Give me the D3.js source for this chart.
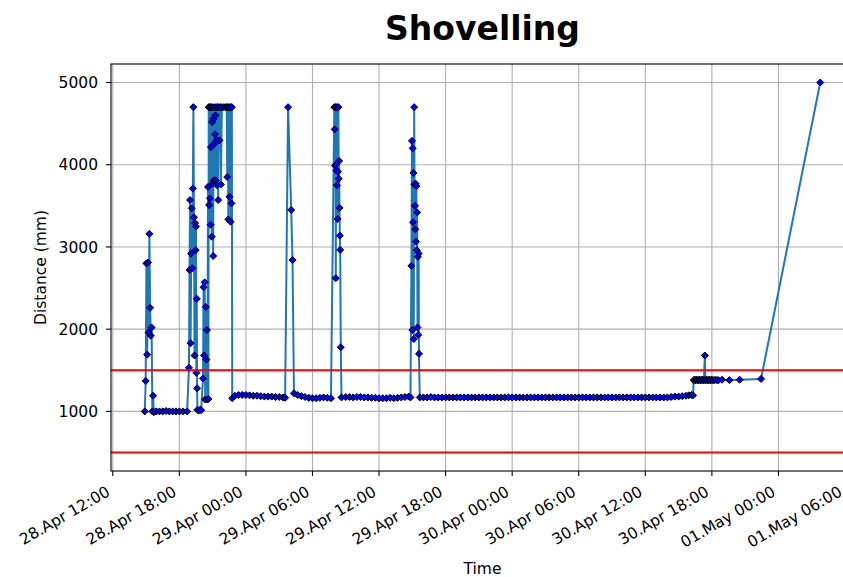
<!DOCTYPE html>
<html>
<head>
<meta charset="utf-8">
<script src="https://cdn.jsdelivr.net/npm/d3@7"></script>
<style>
  html, body { margin: 0; padding: 0; background: #fff; }
  svg { display: block; font-family: "DejaVu Sans", sans-serif; }
</style>
</head>
<body>
<svg id="chart" width="843" height="577"></svg>
<script>
// ---------------- DATA ----------------
const titleText = "Shovelling";
const xLabel = "Time";
const yLabel = "Distance (mm)";
const yTicks = [1000, 2000, 3000, 4000, 5000];
const thresholds = [1500, 500];

// burst on 28 Apr afternoon
const times1 = ["04-28 14:53","04-28 14:58","04-28 15:02","04-28 15:06","04-28 15:10","04-28 15:14","04-28 15:18","04-28 15:22","04-28 15:26","04-28 15:30","04-28 15:34","04-28 15:38","04-28 15:42",
  "04-28 15:55","04-28 16:12","04-28 16:30","04-28 16:48","04-28 17:06","04-28 17:24","04-28 17:42","04-28 18:00","04-28 18:20","04-28 18:42"];
const dist1 = [1000,1370,2800,1690,2810,1960,3160,2260,1920,2020,1000,1190,990,
  1000,1000,1000,1005,1000,1000,1000,1000,1000,1000];

// burst on 28 Apr evening
const times2 = ["04-28 18:52","04-28 18:55","04-28 18:58","04-28 19:01","04-28 19:04","04-28 19:07","04-28 19:10","04-28 19:13","04-28 19:16","04-28 19:19","04-28 19:22","04-28 19:25","04-28 19:28","04-28 19:30","04-28 19:32","04-28 19:34","04-28 19:36","04-28 19:38","04-28 19:44","04-28 19:52","04-28 19:58"];
const dist2 = [1530,2720,3570,1830,2920,3470,2740,3710,4700,3360,1680,3290,2960,3250,1470,2370,1280,1020,1010,1020,1015];

// long burst 28 Apr night
const times3 = ["04-28 20:08","04-28 20:11","04-28 20:14","04-28 20:17","04-28 20:20","04-28 20:23","04-28 20:26","04-28 20:29","04-28 20:32","04-28 20:35","04-28 20:37","04-28 20:39","04-28 20:41","04-28 20:43","04-28 20:45","04-28 20:47","04-28 20:49","04-28 20:51","04-28 20:53","04-28 20:55","04-28 20:57","04-28 20:59",
  "04-28 21:01","04-28 21:03","04-28 21:05","04-28 21:07","04-28 21:09","04-28 21:11","04-28 21:13","04-28 21:15","04-28 21:17","04-28 21:19","04-28 21:21","04-28 21:24","04-28 21:27","04-28 21:30","04-28 21:33","04-28 21:37","04-28 21:41","04-28 21:45","04-28 21:50",
  "04-28 22:00","04-28 22:10","04-28 22:16","04-28 22:19","04-28 22:22","04-28 22:25","04-28 22:28","04-28 22:31","04-28 22:34","04-28 22:37","04-28 22:40","04-28 22:42","04-28 22:44","04-28 22:46"];
const dist3 = [1400,2510,1680,2570,1145,2270,1630,1990,1145,3730,1150,4700,3510,4700,3590,4700,3270,4215,4700,3125,4520,3770,
  4700,2890,4560,3810,4256,4700,4370,4600,3810,4700,4297,3750,4700,3570,4700,4297,4700,3760,4700,
  4700,4700,4700,3850,4700,3335,4700,3610,4700,3307,4700,3530,4700,1160];

// quiet night, then short burst 29 Apr early morning
const times4 = ["04-28 23:00","04-28 23:20","04-28 23:40","04-29 00:00","04-29 00:20","04-29 00:40","04-29 01:00","04-29 01:20","04-29 01:40","04-29 02:00","04-29 02:20","04-29 02:40","04-29 03:00","04-29 03:20","04-29 03:32",
  "04-29 03:48","04-29 04:05","04-29 04:12","04-29 04:20","04-29 04:40","04-29 05:00","04-29 05:20","04-29 05:40","04-29 06:00","04-29 06:20","04-29 06:40","04-29 07:00","04-29 07:20","04-29 07:40"];
const dist4 = [1190,1200,1200,1200,1195,1190,1190,1185,1180,1180,1180,1175,1175,1170,1165,
  4700,3450,2840,1220,1200,1185,1175,1165,1160,1160,1165,1170,1165,1160];

// burst 29 Apr morning
const times5 = ["04-29 07:58","04-29 08:00","04-29 08:02","04-29 08:04","04-29 08:06","04-29 08:08","04-29 08:10","04-29 08:12","04-29 08:14","04-29 08:16","04-29 08:18","04-29 08:20","04-29 08:22","04-29 08:24","04-29 08:26","04-29 08:28","04-29 08:30","04-29 08:33","04-29 08:37",
  "04-29 09:00","04-29 09:20","04-29 09:40","04-29 10:00","04-29 10:20","04-29 10:40","04-29 11:00","04-29 11:20","04-29 11:40","04-29 12:00","04-29 12:20","04-29 12:40","04-29 13:00","04-29 13:20","04-29 13:40","04-29 14:00","04-29 14:20","04-29 14:40"];
const dist5 = [4700,4430,3990,4700,2620,4700,3930,3750,4700,3340,3915,4700,3830,4046,3475,3137,2964,1780,1170,
  1175,1175,1170,1175,1175,1170,1170,1165,1165,1160,1160,1160,1165,1160,1165,1170,1175,1180];

// burst 29 Apr afternoon
const times6 = ["04-29 14:50","04-29 14:55","04-29 14:58","04-29 15:00","04-29 15:02","04-29 15:04","04-29 15:06","04-29 15:08","04-29 15:10","04-29 15:12","04-29 15:14","04-29 15:16","04-29 15:18","04-29 15:20","04-29 15:22","04-29 15:24","04-29 15:26","04-29 15:28","04-29 15:30","04-29 15:32","04-29 15:34","04-29 15:36","04-29 15:40"];
const dist6 = [1170,2770,4290,1990,4200,3300,3900,1880,4700,3760,3500,3215,3770,3065,3740,2960,3420,2020,2880,1930,2920,1700,1170];

// long quiet stretch 29 Apr 16:00 - 30 Apr 16:20
const times7 = ["04-29 16:00","04-29 16:20","04-29 16:40","04-29 17:00","04-29 17:20","04-29 17:40","04-29 18:00","04-29 18:20","04-29 18:40","04-29 19:00","04-29 19:20","04-29 19:40",
  "04-29 20:00","04-29 20:20","04-29 20:40","04-29 21:00","04-29 21:20","04-29 21:40","04-29 22:00","04-29 22:20","04-29 22:40","04-29 23:00","04-29 23:20","04-29 23:40",
  "04-30 00:00","04-30 00:20","04-30 00:40","04-30 01:00","04-30 01:20","04-30 01:40","04-30 02:00","04-30 02:20","04-30 02:40","04-30 03:00","04-30 03:20","04-30 03:40",
  "04-30 04:00","04-30 04:20","04-30 04:40","04-30 05:00","04-30 05:20","04-30 05:40","04-30 06:00","04-30 06:20","04-30 06:40","04-30 07:00","04-30 07:20","04-30 07:40",
  "04-30 08:00","04-30 08:20","04-30 08:40","04-30 09:00","04-30 09:20","04-30 09:40","04-30 10:00","04-30 10:20","04-30 10:40","04-30 11:00","04-30 11:20","04-30 11:40",
  "04-30 12:00","04-30 12:20","04-30 12:40","04-30 13:00","04-30 13:20","04-30 13:40","04-30 14:00","04-30 14:20","04-30 14:40","04-30 15:00","04-30 15:20","04-30 15:40",
  "04-30 15:55","04-30 16:10","04-30 16:18"];
const dist7 = [1170,1170,1175,1170,1170,1170,1170,1170,1170,1170,1170,1170,
  1170,1170,1170,1170,1170,1170,1170,1170,1170,1170,1170,1170,
  1170,1170,1170,1170,1170,1170,1170,1170,1170,1170,1170,1170,
  1170,1170,1170,1170,1170,1170,1170,1170,1170,1170,1170,1170,
  1170,1170,1170,1170,1170,1170,1170,1170,1170,1170,1170,1170,
  1170,1170,1170,1170,1170,1170,1170,1175,1180,1180,1185,1190,
  1195,1200,1195];

// level shift 30 Apr evening and final reading
const times8 = ["04-30 16:22","04-30 16:27","04-30 16:32","04-30 16:37","04-30 16:42","04-30 16:47","04-30 16:52","04-30 16:57","04-30 17:02","04-30 17:07","04-30 17:12","04-30 17:17","04-30 17:22","04-30 17:25","04-30 17:30","04-30 17:35","04-30 17:40","04-30 17:45","04-30 17:50","04-30 17:55","04-30 18:00","04-30 18:05","04-30 18:12","04-30 18:20","04-30 18:28","04-30 18:36","04-30 18:55","04-30 19:35","04-30 20:30","04-30 22:26","05-01 03:46"];
const dist8 = [1380,1385,1380,1385,1380,1380,1385,1380,1380,1385,1380,1380,1680,1380,1385,1380,1380,1385,1380,1380,1385,1380,1380,1385,1380,1380,1385,1380,1385,1395,5000];

// ---------------- BUILD ----------------
const parse = d3.timeParse("%Y-%m-%d %H:%M");
const allTimes = [].concat(times1, times2, times3, times4, times5, times6, times7, times8);
const allDist = [].concat(dist1, dist2, dist3, dist4, dist5, dist6, dist7, dist8);
const data = allTimes.map((t, i) => ({ t: parse("2023-" + t), v: allDist[i] }));

const svg = d3.select("#chart");
const m = { left: 111, top: 64, right: 854, bottom: 471 };
const FS = 15.5;

// matplotlib-like 5% margins
const tExt = d3.extent(data, d => d.t);
const span = tExt[1] - tExt[0];
const x = d3.scaleTime()
  .domain([new Date(+tExt[0] - span * 0.05), new Date(+tExt[1] + span * 0.05)])
  .range([m.left, m.right]);
const yMin = Math.min(d3.min(data, d => d.v), d3.min(thresholds));
const yMax = Math.max(d3.max(data, d => d.v), d3.max(thresholds));
const ySpan = yMax - yMin;
const y = d3.scaleLinear()
  .domain([yMin - ySpan * 0.05, yMax + ySpan * 0.05])
  .range([m.bottom, m.top]);

const xTicks = x.ticks(d3.timeHour.every(6));
const fmt = d3.timeFormat("%d.%b %H:%M");

// grid
const grid = svg.append("g");
grid.selectAll(".gx").data(xTicks).enter().append("line")
  .attr("x1", d => x(d)).attr("x2", d => x(d))
  .attr("y1", m.top).attr("y2", m.bottom)
  .attr("stroke", "#b0b0b0").attr("stroke-width", 1.1);
grid.selectAll(".gy").data(yTicks).enter().append("line")
  .attr("x1", m.left).attr("x2", m.right)
  .attr("y1", d => y(d)).attr("y2", d => y(d))
  .attr("stroke", "#b0b0b0").attr("stroke-width", 1.1);

// series line
const line = d3.line().x(d => x(d.t)).y(d => y(d.v));
svg.append("path").datum(data)
  .attr("d", line)
  .attr("fill", "none")
  .attr("stroke", "#1f77b4")
  .attr("stroke-width", 2)
  .attr("stroke-linejoin", "round");

// markers (diamonds)
const r = 3.5;
svg.append("g").selectAll("path").data(data).enter().append("path")
  .attr("d", `M0,${-r}L${r},0L0,${r}L${-r},0Z`)
  .attr("transform", d => `translate(${x(d.t)},${y(d.v)})`)
  .attr("fill", "#0000ff")
  .attr("stroke", "#000")
  .attr("stroke-width", 1);

// threshold lines
svg.append("g").selectAll("line").data(thresholds).enter().append("line")
  .attr("x1", m.left).attr("x2", m.right)
  .attr("y1", d => y(d)).attr("y2", d => y(d))
  .attr("stroke", "#ff0000").attr("stroke-width", 2);

// spines
svg.append("rect")
  .attr("x", m.left).attr("y", m.top)
  .attr("width", m.right - m.left).attr("height", m.bottom - m.top)
  .attr("fill", "none").attr("stroke", "#000").attr("stroke-width", 1.1);

// y axis ticks
const yAx = svg.append("g");
yAx.selectAll("line").data(yTicks).enter().append("line")
  .attr("x1", m.left - 5).attr("x2", m.left)
  .attr("y1", d => y(d)).attr("y2", d => y(d))
  .attr("stroke", "#000").attr("stroke-width", 1.1);
yAx.selectAll("text").data(yTicks).enter().append("text")
  .attr("x", m.left - 13).attr("y", d => y(d))
  .attr("dy", "0.36em")
  .attr("text-anchor", "end")
  .attr("font-size", FS)
  .attr("fill", "#000")
  .text(d => d);

// x axis ticks
const xAx = svg.append("g");
xAx.selectAll("line").data(xTicks).enter().append("line")
  .attr("x1", d => x(d)).attr("x2", d => x(d))
  .attr("y1", m.bottom).attr("y2", m.bottom + 5)
  .attr("stroke", "#000").attr("stroke-width", 1.1);
xAx.selectAll("text").data(xTicks).enter().append("text")
  .attr("transform", d => `translate(${x(d) - 8},${m.bottom + 13}) rotate(-30)`)
  .attr("dy", "0.8em")
  .attr("text-anchor", "end")
  .attr("font-size", FS)
  .attr("fill", "#000")
  .text(d => fmt(d));

// labels
svg.append("text")
  .attr("x", (m.left + m.right) / 2).attr("y", 574)
  .attr("text-anchor", "middle")
  .attr("font-size", FS)
  .text(xLabel);
svg.append("text")
  .attr("transform", `translate(46,${(m.top + m.bottom) / 2}) rotate(-90)`)
  .attr("text-anchor", "middle")
  .attr("font-size", FS)
  .text(yLabel);
svg.append("text")
  .attr("x", (m.left + m.right) / 2).attr("y", 40)
  .attr("text-anchor", "middle")
  .attr("font-size", 33)
  .attr("font-weight", "bold")
  .text(titleText);
</script>
</body>
</html>
